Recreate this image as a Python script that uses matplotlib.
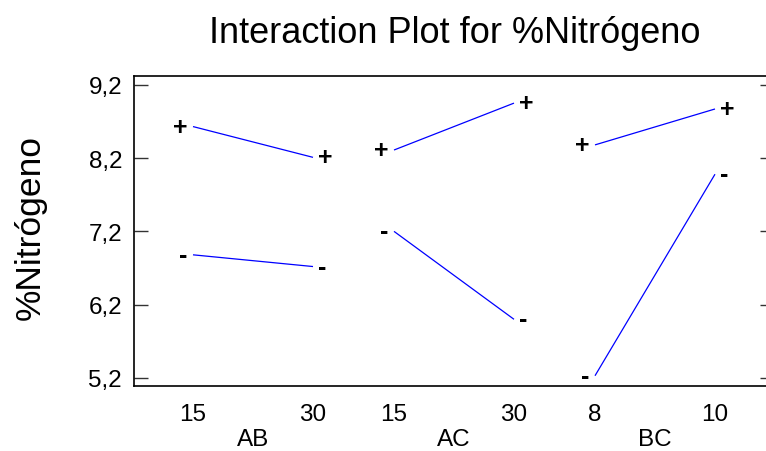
import numpy as np
import matplotlib
matplotlib.use("Agg")
import matplotlib.pyplot as plt

plt.rcParams['font.family'] = ['Liberation Sans', 'DejaVu Sans']

# interaction means
factors = ["AB", "AC", "BC"]
level_labels = [["15", "30"], ["15", "30"], ["8", "10"]]
mean_plus = [[8.63, 8.21], [8.31, 8.95], [8.38, 8.87]]
mean_minus = [[6.88, 6.72], [7.20, 6.00], [5.23, 7.98]]
y_ticks = [5.2, 6.2, 7.2, 8.2, 9.2]

title = "Interaction Plot for %Nitrógeno"
ylabel = "%Nitrógeno"

################################ LAYOUT ########################################
W, H = 766, 452
group_gap = 1.675      # distance between panels, in level units
ax_left, ax_right, ax_top, ax_bottom = 134, 774, 77, 387   # pixels
###############################################################################

fig = plt.figure(figsize=(W / 100, H / 100), dpi=100)
ax = fig.add_axes([ax_left / W, 1 - ax_bottom / H,
                   (ax_right - ax_left) / W, (ax_bottom - ax_top) / H])

xticks = []
xlabels = []
for g, name in enumerate(factors):
    xs = np.array([0.0, 1.0]) + g * group_gap
    for series, sign in ((mean_plus[g], "+"), (mean_minus[g], "-")):
        ax.plot(xs, series, color="#0000ff", lw=0.9, solid_capstyle="butt")
        off = 12.3 if sign == "+" else 9.5
        ax.annotate(sign, (xs[0], series[0]), xytext=(-off * 0.72, 0),
                    textcoords="offset points", ha="center", va="center",
                    fontsize=18, fontweight="bold")
        ax.annotate(sign, (xs[1], series[1]), xytext=(off * 0.72, 0),
                    textcoords="offset points", ha="center", va="center",
                    fontsize=18, fontweight="bold")
    xticks += list(xs)
    xlabels += level_labels[g]
    ax.annotate(name, (xs.mean(), 0), xycoords=("data", "axes fraction"),
                xytext=(0, -53 * 0.72), textcoords="offset points",
                ha="center", va="center", fontsize=17.5)

# x range so that level 0 of AB sits at pixel 193, 120 px per level unit
ppu = 120.0
ax.set_xlim((ax_left - 193) / ppu, (ax_right - 193) / ppu)
ax.set_ylim(5.09, 9.32)

ax.set_xticks(xticks)
ax.set_xticklabels(xlabels, fontsize=17.5)
ax.tick_params(axis="x", length=0, pad=12.3)

ax.set_yticks(y_ticks)
ax.set_yticklabels([f"{v:.1f}".replace(".", ",") for v in y_ticks], fontsize=17.5)
ax.tick_params(axis="y", direction="in", length=14 * 0.72, width=1.0,
               left=True, right=True, pad=8.6, color="#333333")

for s in ax.spines.values():
    s.set_linewidth(1.2)

fig.text(455 / W, 1 - 43 / H, title, ha="center", va="baseline", fontsize=26)
fig.text(30 / W, 1 - 228 / H, ylabel, rotation=90, ha="center", va="center",
         fontsize=25.5)

fig.savefig("out.png", dpi=100)
